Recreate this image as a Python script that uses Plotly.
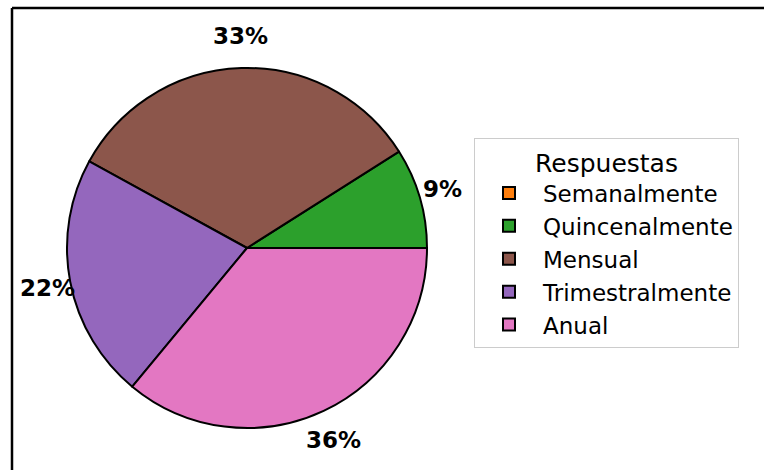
import math
import plotly.graph_objects as go

categories = ["Semanalmente", "Quincenalmente", "Mensual", "Trimestralmente", "Anual"]
values = [0, 9, 33, 22, 36]
colors = ["#ff7f0e", "#2ca02c", "#8c564b", "#9467bd", "#e377c2"]

W, H = 764, 470
cx, cy, r = 247, 248, 180  # pixel layout of the pie

fig = go.Figure(
    go.Pie(
        labels=categories,
        values=values,
        sort=False,
        direction="counterclockwise",
        rotation=90,
        marker=dict(colors=colors, line=dict(color="black", width=2)),
        textinfo="none",
        hoverinfo="label+percent",
        domain=dict(x=[(cx - r) / W, (cx + r) / W], y=[(H - cy - r) / H, (H - cy + r) / H]),
        showlegend=True,
    )
)

# percentage labels outside each wedge, at the wedge's mid-angle
total = sum(values)
start = 0.0
for v in values:
    frac = v / total
    if v > 0:
        mid = math.radians(360 * (start + frac / 2))
        px = cx + 1.13 * r * math.cos(mid)
        py = cy - 1.18 * r * math.sin(mid)
        fig.add_annotation(
            x=px / W, y=1 - py / H, xref="paper", yref="paper",
            text=f"{round(frac * 100)}%", showarrow=False,
            xanchor="center", yanchor="middle",
            font=dict(family="DejaVu Sans", size=23, color="black", weight="bold"),
        )
    start += frac

fig.add_shape(type="line", xref="paper", yref="paper", x0=12 / W, x1=1.01, y0=1 - 8 / H, y1=1 - 8 / H,
              line=dict(color="black", width=2.5))
fig.add_shape(type="line", xref="paper", yref="paper", x0=12 / W, x1=12 / W, y0=-0.01, y1=1 - 8 / H,
              line=dict(color="black", width=2.5))

fig.update_layout(
    width=W,
    height=H,
    margin=dict(l=0, r=0, t=0, b=0),
    paper_bgcolor="white",
    plot_bgcolor="white",
    font=dict(family="DejaVu Sans", color="black"),
    legend=dict(
        title=dict(text="Respuestas", font=dict(size=25), side="top center"),
        font=dict(size=23),
        x=474 / W,
        xanchor="left",
        y=1 - 138 / H,
        yanchor="top",
        bordercolor="#cccccc",
        borderwidth=1,
        bgcolor="white",
        itemwidth=58,
    ),
)

fig.write_html("out.html")
